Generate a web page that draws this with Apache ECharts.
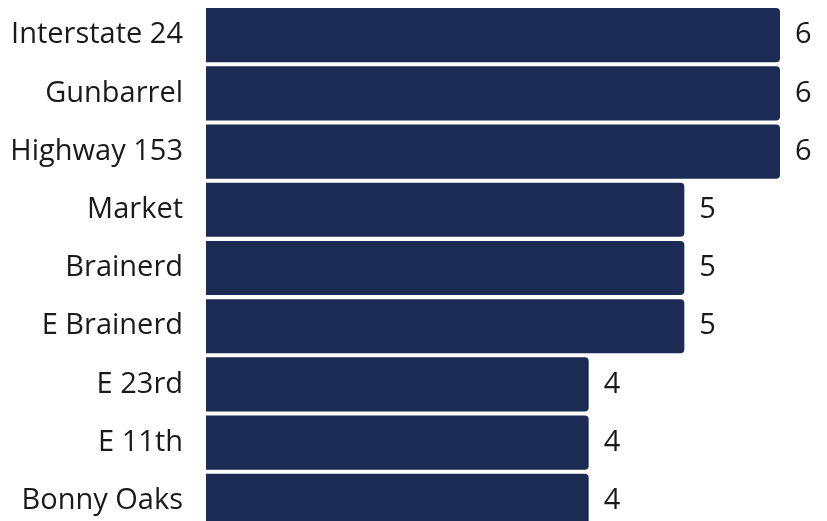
<!DOCTYPE html>
<html><head><meta charset="utf-8">
<script src="https://cdn.jsdelivr.net/npm/echarts@6/dist/echarts.min.js"></script>
<style>html,body{margin:0;padding:0;background:#fff;overflow:hidden}#c{width:827px;height:531px}</style>
</head><body><div id="c"></div>
<script>
const categories = ["Interstate 24","Gunbarrel","Highway 153","Market","Brainerd","E Brainerd","E 23rd","E 11th","Bonny Oaks"];
const values = [6,6,6,5,5,5,4,4,4];
const chart = echarts.init(document.getElementById('c'), null, {renderer:'canvas'});
chart.setOption({
  animation:false,
  grid:{left:206,width:574,top:6,height:524,containLabel:false},
  xAxis:{type:'value',min:0,max:6,show:false},
  yAxis:{type:'category',inverse:true,data:categories,
    axisLine:{show:false},axisTick:{show:false},
    axisLabel:{margin:23,color:'#1a1a1a',fontFamily:'Open Sans',fontSize:29}},
  series:[{type:'bar',data:values,barCategoryGap:'7%',
    itemStyle:{color:'#1b2b53',borderRadius:[0,4,4,0]},
    label:{show:true,position:'right',distance:15,color:'#1a1a1a',fontFamily:'Open Sans',fontSize:29}}]
});
</script></body></html>
